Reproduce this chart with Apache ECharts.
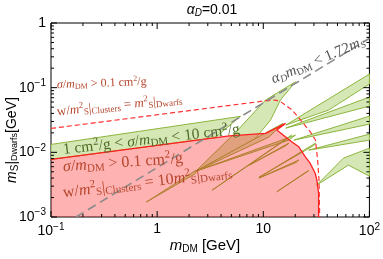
<!DOCTYPE html>
<html><head><meta charset="utf-8">
<script src="https://cdn.jsdelivr.net/npm/echarts@6/dist/echarts.min.js"></script>
<style>html,body{margin:0;padding:0;background:#fff}#c{width:383px;height:259px}</style>
</head><body><div id="c"></div>
<script>
// ---- axis ticks ----
const xTickValues = [0.1, 1, 10, 100];
const xTickLabels = ['10^−1', '1', '10', '10^2'];
const yTickValues = [0.001, 0.01, 0.1, 1];
const yTickLabels = ['10^−3', '10^−2', '10^−1', '1'];

// ---- curves (m_DM [GeV], m_S [GeV]) ----
const redBoundary = [[0.1,0.00776],[4.77,0.0180],[10.5,0.0196],[16.2,0.0280],[13.4,0.0221],[18.5,0.01455],[21.6,0.01217],[24.9,0.0085],[27.7,0.00673],[30.9,0.00471],[32.0,0.00371],[33.2,0.00231],[33.2,0.001]];
const redDashed = [[0.1,0.0234],[10.5,0.0627],[13.0,0.0643],[14.5,0.0610],[18.7,0.0450],[22.5,0.0315],[27.7,0.0208],[31.0,0.0155],[32.5,0.0076],[33.5,0.0037],[34.0,0.001]];
const grayDashed = [[0.172,0.001],[100,0.58]];
const greenBand = [[0.1,0.01325],[6.1,0.036],[3.5,0.0168],[0.1,0.00776]];

// ---- green wedges ----
const spikes = [
  [[2.32,0.00512],[5.5,0.0205],[10.5,0.0643],[20.1,0.1234],[14.5,0.0643],[11.7,0.0315],[8.17,0.01545]],
  [[2.32,0.00512],[15.3,0.0280],[11.3,0.0172]],
  [[2.32,0.00512],[20.1,0.01845],[17.4,0.01545]],
  [[0.79,0.0017],[2.33,0.0053],[2.30,0.0047]],
  [[3.30,0.0026],[18.5,0.0185],[17.4,0.0169]],
  [[9.1,0.0041],[31.1,0.0139],[30.0,0.0128]],
  [[13.4,0.00245],[26.8,0.0052],[25.5,0.0050]],
  [[9.1,0.0040],[21.6,0.0076],[20.5,0.0070]],
  [[7.33,0.0063],[17.4,0.0139],[16.5,0.0128]],
  [[16.3,0.0264],[100,0.1625],[100,0.1137],[41.2,0.045]],
  [[16.3,0.0237],[100,0.0715],[100,0.0519]],
  [[19.4,0.01545],[100,0.0363],[100,0.0273]],
  [[26.8,0.01081],[100,0.0191],[100,0.01545]],
  [[31.8,0.00311],[56.9,0.00813],[100,0.01161],[100,0.00428],[63.4,0.00634]]
];

function richTick(label) {
  const p = label.split('^');
  return p.length > 1 ? '{b|' + p[0] + '}{s|' + p[1] + '}' : '{b|' + p[0] + '}';
}
function fmtFrom(vals, labels) {
  return v => {
    for (let i = 0; i < vals.length; i++) {
      if (Math.abs(Math.log10(v) - Math.log10(vals[i])) < 0.01) return richTick(labels[i]);
    }
    return '';
  };
}
const tickRich = {
  b: {fontSize: 14, fontFamily: 'Liberation Sans', color: '#000'},
  s: {fontSize: 10, fontFamily: 'Liberation Sans', color: '#000', padding: [0,0,9,0]}
};

function polySeries(polys, style, z) {
  return {
    type: 'custom', z: z, silent: true, clip: true,
    data: polys.map(p => p[0]),
    renderItem: (params, api) => ({
      type: 'polygon',
      shape: {points: polys[params.dataIndex].map(p => api.coord(p))},
      style: style
    })
  };
}

const minorX = [], minorY = [];
[0.1, 1, 10].forEach(d => { for (let k = 2; k <= 9; k++) minorX.push(k * d); });
[0.001, 0.01, 0.1].forEach(d => { for (let k = 2; k <= 9; k++) minorY.push(k * d); });

const serif = 'Liberation Serif';
function annRich(color, base) {
  const sb = Math.round(base * 0.68);
  const dn = Math.round(base * 0.45), up = Math.round(base * 0.6);
  return {
    r: {fontSize: base, fontFamily: serif, color: color},
    i: {fontSize: base, fontFamily: serif, fontStyle: 'italic', color: color},
    sub: {fontSize: sb, fontFamily: serif, color: color, padding: [dn,0,0,0]},
    si: {fontSize: sb, fontFamily: serif, fontStyle: 'italic', color: color, padding: [dn,0,0,0]},
    sup: {fontSize: sb, fontFamily: serif, color: color, padding: [0,0,up,0]}
  };
}
function ann(x, y, deg, text, color, base) {
  return {
    type: 'text', x: x, y: y, rotation: deg * Math.PI / 180, silent: true, z: 100,
    style: {text: text, rich: annRich(color, base), fill: color, fontFamily: serif, fontSize: base, align: 'left', verticalAlign: 'middle'}
  };
}
const redTxt = '#b5452c', greenTxt = '#4d6b27', grayTxt = '#555555';

const chart = echarts.init(document.getElementById('c'), null, {renderer: 'canvas'});
chart.setOption({
  animation: false,
  backgroundColor: '#fff',
  grid: {left: 51, right: 12, top: 23, bottom: 42, show: true, borderColor: '#000', borderWidth: 1, backgroundColor: 'transparent'},
  xAxis: {
    type: 'log', logBase: 10, min: 0.1, max: 100,
    axisLine: {show: false}, axisTick: {show: false}, splitLine: {show: false}, minorTick: {show: false},
    axisLabel: {formatter: fmtFrom(xTickValues, xTickLabels), rich: tickRich, margin: 5}
  },
  yAxis: {
    type: 'log', logBase: 10, min: 0.001, max: 1,
    axisLine: {show: false}, axisTick: {show: false}, splitLine: {show: false}, minorTick: {show: false},
    axisLabel: {formatter: fmtFrom(yTickValues, yTickLabels), rich: tickRich, margin: 5}
  },
  series: [
    polySeries([greenBand], {fill: '#d4e7b5', stroke: '#8db53e', lineWidth: 1}, 1),
    polySeries(spikes, {fill: '#d4e7b5', stroke: '#8db53e', lineWidth: 1}, 2),
    polySeries([redBoundary.concat([[0.1, 0.001]])], {fill: 'rgba(255,0,0,0.3)', stroke: null}, 3),
    {type: 'line', z: 4, data: redBoundary, symbol: 'none', silent: true, lineStyle: {color: '#ff1f1f', width: 1.3}},
    {type: 'line', z: 4, data: redDashed, symbol: 'none', silent: true, lineStyle: {color: '#ff3333', width: 1.2, type: [5, 3]}},
    {type: 'line', z: 4, data: grayDashed, symbol: 'none', silent: true, lineStyle: {color: '#8a8a8a', width: 1.6, type: [9, 5]}},
    {
      type: 'custom', z: 10, silent: true, clip: false, data: [[1, 0.01]],
      renderItem: (params, api) => {
        const cs = params.coordSys;
        const L = cs.x, T = cs.y, R = cs.x + cs.width, B = cs.y + cs.height;
        const ch = [];
        const add = (x1, y1, x2, y2) => ch.push({type: 'line', shape: {x1, y1, x2, y2}, style: {stroke: '#000', lineWidth: 1}});
        xTickValues.forEach(v => { const x = api.coord([v, 0.01])[0]; add(x, B, x, B - 6); add(x, T, x, T + 6); });
        minorX.forEach(v => { const x = api.coord([v, 0.01])[0]; add(x, B, x, B - 3); add(x, T, x, T + 3); });
        yTickValues.forEach(v => { const y = api.coord([1, v])[1]; add(L, y, L + 6, y); add(R, y, R - 6, y); });
        minorY.forEach(v => { const y = api.coord([1, v])[1]; add(L, y, L + 3, y); add(R, y, R - 3, y); });
        return {type: 'group', children: ch};
      }
    }
  ],
  graphic: [
    {type: 'text', x: 212, y: 10, silent: true, style: {
      text: '{i|α}{sub|D}{r|=0.01}', align: 'center', verticalAlign: 'middle',
      rich: {i: {fontSize: 14, fontFamily: 'Liberation Sans', fontStyle: 'italic', color: '#000'},
             sub: {fontSize: 10, fontFamily: 'Liberation Sans', fontStyle: 'italic', color: '#000', padding: [6,0,0,0]},
             r: {fontSize: 14, fontFamily: 'Liberation Sans', color: '#000'}}}},
    {type: 'text', x: 205, y: 246, silent: true, style: {
      text: '{i|m}{sub|DM}{r| [GeV]}', align: 'center', verticalAlign: 'middle',
      rich: {i: {fontSize: 15, fontFamily: 'Liberation Sans', fontStyle: 'italic', color: '#000'},
             sub: {fontSize: 10, fontFamily: 'Liberation Sans', color: '#000', padding: [6,0,0,0]},
             r: {fontSize: 15, fontFamily: 'Liberation Sans', color: '#000'}}}},
    {type: 'text', x: 12, y: 140, rotation: Math.PI / 2, silent: true, style: {
      text: '{i|m}{sub|S}{r||}{sub2|Dwarfs}{r|[GeV]}', align: 'center', verticalAlign: 'middle',
      rich: {i: {fontSize: 14, fontFamily: 'Liberation Sans', fontStyle: 'italic', color: '#000'},
             sub: {fontSize: 10, fontFamily: 'Liberation Sans', color: '#000', padding: [6,0,0,0]},
             sub2: {fontSize: 9, fontFamily: 'Liberation Sans', color: '#000', padding: [6,0,0,0]},
             r: {fontSize: 14, fontFamily: 'Liberation Sans', color: '#000'}}}},
    ann(57, 85, 2, '{i|σ}{r|/}{i|m}{sub|DM}{r| > 0.1 cm}{sup|2}{r|/g}', redTxt, 12),
    ann(57, 112, 5.8, '{r|w/}{i|m}{sup|2}{sub|S}{r||}{sub|Clusters}{r| = }{i|m}{sup|2}{sub|S}{r||}{sub|Dwarfs}', redTxt, 13),
    ann(63, 150, 6.6, '{r|1 cm}{sup|2}{r|/g < }{i|σ}{r|/}{i|m}{sub|DM}{r| < 10 cm}{sup|2}{r|/g}', greenTxt, 15.5),
    ann(63, 167, 4, '{i|σ}{r|/}{i|m}{sub|DM}{r| > 0.1 cm}{sup|2}{r|/g}', redTxt, 16),
    ann(63, 193, 7, '{r|w/}{i|m}{sup|2}{sub|S}{r||}{sub|Clusters}{r| = 10}{i|m}{sup|2}{sub|S}{r||}{sub|Dwarfs}', redTxt, 16),
    ann(272, 80, 23, '{i|α}{si|D}{i|m}{sub|DM}{r| < 1.72}{i|m}{si|S}', grayTxt, 15)
  ]
});
</script></body></html>
